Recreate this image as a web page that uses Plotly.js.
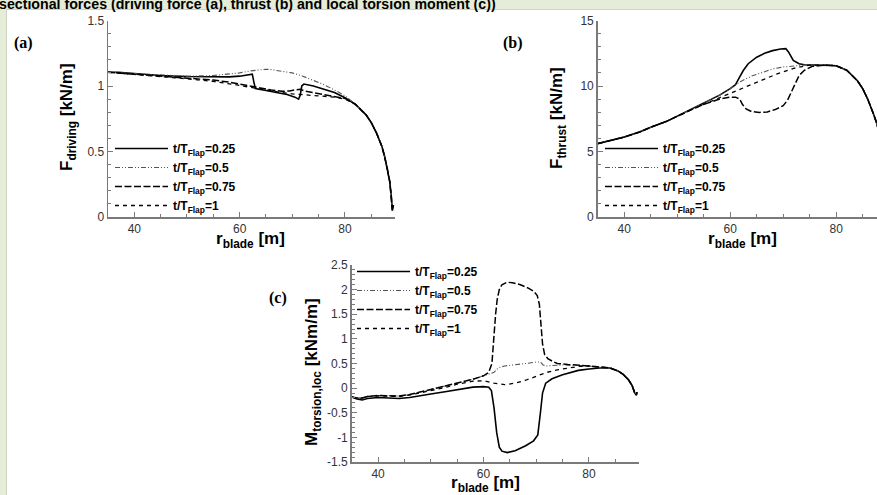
<!DOCTYPE html>
<html><head><meta charset="utf-8">
<script src="https://cdn.plot.ly/plotly-3.0.1.min.js"></script>
<style>html,body{margin:0;padding:0;overflow:hidden;background:#e5ecd7}</style>
</head><body><div id="chart" style="width:877px;height:495px"></div>
<script>
// ---------- series names ----------
const seriesNames = ['t/T<sub>Flap</sub>=0.25', 't/T<sub>Flap</sub>=0.5', 't/T<sub>Flap</sub>=0.75', 't/T<sub>Flap</sub>=1'];

// ---------- (a) driving force [kN/m] ----------
const xa025 = [35,37,40,45,50,55,58,60,61,62,62.4,62.7,63,65,67,69,70.5,71.2,71.5,71.8,72.2,74,76,78,80,82,84,85,86,87,87.5,88,88.5,88.8,89,89.2];
const ya025 = [1.105,1.105,1.095,1.08,1.072,1.068,1.07,1.075,1.08,1.087,1.09,1.03,0.98,0.965,0.95,0.935,0.915,0.9,0.93,1.0,1.015,1.0,0.975,0.95,0.91,0.86,0.78,0.72,0.64,0.54,0.47,0.38,0.27,0.16,0.05,0.09];
const xa05 = [35,40,45,50,55,58,60,62,64,65,66,68,70,72,74,76,78,80,82,84,85,86,87,87.5,88,88.5,88.8,89,89.2];
const ya05 = [1.105,1.095,1.08,1.075,1.08,1.09,1.1,1.115,1.125,1.128,1.125,1.115,1.1,1.075,1.045,1.01,0.97,0.925,0.86,0.78,0.72,0.64,0.54,0.47,0.38,0.27,0.16,0.05,0.09];
const xa075 = [35,40,45,50,55,58,60,62,64,66,68,69.5,70.5,71.5,72.5,74,76,78,80,82,84,85,86,87,87.5,88,88.5,88.8,89,89.2];
const ya075 = [1.105,1.09,1.075,1.06,1.045,1.03,1.015,0.995,0.98,0.97,0.96,0.962,0.97,0.975,0.96,0.95,0.935,0.92,0.905,0.86,0.78,0.72,0.64,0.54,0.47,0.38,0.27,0.16,0.05,0.09];
const xa1 = [35,40,45,50,55,58,60,62,64,66,68,70,72,74,76,78,80,82,84,85,86,87,87.5,88,88.5,88.8,89,89.2];
const ya1 = [1.105,1.09,1.07,1.055,1.035,1.02,1.005,0.99,0.975,0.96,0.95,0.94,0.935,0.93,0.925,0.915,0.9,0.86,0.78,0.72,0.64,0.54,0.47,0.38,0.27,0.16,0.05,0.09];

// ---------- (b) thrust [kN/m] ----------
const xb025 = [35,38,40,43,45,48,50,53,55,58,60,61,61.8,62.5,63.4,65,66.5,68,69.5,70.5,71,71.4,71.9,73,74,76,78,80,82,84,85,86,87,87.7,88.5,89];
const yb025 = [5.6,5.9,6.1,6.5,6.85,7.3,7.7,8.3,8.7,9.3,9.8,10.1,10.7,11.2,11.7,12.2,12.5,12.7,12.82,12.85,12.6,12.3,11.95,11.7,11.62,11.6,11.6,11.55,11.2,10.4,9.8,8.95,7.9,7.1,5.6,4.0];
const xb05 = [35,38,40,43,45,48,50,53,55,58,60,62,64,66,68,70,72,74,76,78,80,82,84,85,86,87,87.7,88.5,89];
const yb05 = [5.6,5.9,6.1,6.5,6.85,7.3,7.7,8.3,8.7,9.3,9.8,10.35,10.75,11.05,11.3,11.45,11.55,11.6,11.6,11.6,11.55,11.2,10.4,9.8,8.95,7.9,7.1,5.6,4.0];
const xb075 = [35,38,40,43,45,48,50,53,55,58,60,61,61.8,62.3,63,64,65.5,67,68.5,70,70.8,71.5,72.2,73,74,75.5,78,80,82,84,85,86,87,87.7,88.5,89];
const yb075 = [5.6,5.9,6.1,6.5,6.85,7.3,7.7,8.25,8.6,9.0,9.15,9.15,9.0,8.6,8.25,8.05,7.98,8.02,8.2,8.5,8.9,9.5,10.2,10.8,11.2,11.5,11.6,11.55,11.2,10.4,9.8,8.95,7.9,7.1,5.6,4.0];
const xb1 = [35,38,40,43,45,48,50,53,55,58,60,63,66,69,72,75,78,80,82,84,85,86,87,87.7,88.5,89];
const yb1 = [5.6,5.9,6.1,6.5,6.85,7.3,7.7,8.25,8.6,9.1,9.4,9.9,10.45,10.95,11.35,11.6,11.6,11.55,11.2,10.4,9.8,8.95,7.9,7.1,5.6,4.0];

// ---------- (c) local torsion moment [kNm/m] ----------
const xc025 = [35,36,37,38,40,42,44,46,48,50,53,55,58,60,61,61.5,62,62.5,63,63.5,64.5,66,68,69.5,70.3,70.8,71.2,71.8,73,75,78,80,82,84,85.5,86.5,87.5,88.2,88.7,89,89.1];
const yc025 = [-0.18,-0.22,-0.24,-0.21,-0.19,-0.2,-0.21,-0.19,-0.16,-0.12,-0.07,-0.03,0.02,0.03,0.02,-0.05,-0.4,-0.9,-1.2,-1.28,-1.31,-1.27,-1.17,-1.07,-0.95,-0.5,-0.1,0.1,0.19,0.27,0.36,0.39,0.41,0.41,0.35,0.28,0.17,0.05,-0.1,-0.14,-0.08];
const xc05 = [35,36,37,38,40,42,44,46,48,50,53,55,58,60,61,62,62.5,63,64,66,68,70,70.8,71.3,72,73,75,78,80,82,84,85.5,86.5,87.5,88.2,88.7,89,89.1];
const yc05 = [-0.18,-0.2,-0.2,-0.17,-0.15,-0.16,-0.16,-0.13,-0.08,-0.03,0.05,0.1,0.18,0.25,0.28,0.32,0.38,0.42,0.45,0.47,0.5,0.53,0.53,0.47,0.45,0.46,0.47,0.46,0.44,0.43,0.41,0.35,0.28,0.17,0.05,-0.1,-0.14,-0.08];
const xc075 = [35,36,37,38,40,42,44,46,48,50,53,55,58,60,61,61.6,61.9,62.3,62.6,63,63.5,64.5,65.5,67,68.5,69.5,70.2,70.6,70.9,71.2,71.6,72.2,73,74,76,78,80,82,84,85.5,86.5,87.5,88.2,88.7,89,89.1];
const yc075 = [-0.18,-0.2,-0.2,-0.17,-0.15,-0.16,-0.16,-0.13,-0.08,-0.03,0.05,0.1,0.18,0.25,0.32,0.5,1.0,1.5,1.8,2.0,2.1,2.15,2.14,2.1,2.03,1.97,1.88,1.7,1.3,0.9,0.68,0.6,0.55,0.5,0.48,0.47,0.45,0.43,0.41,0.35,0.28,0.17,0.05,-0.1,-0.14,-0.08];
const xc1 = [35,36,37,38,40,42,44,46,48,50,53,55,58,60,62,64,66,68,70,72,74,76,78,80,82,84,85.5,86.5,87.5,88.2,88.7,89,89.1];
const yc1 = [-0.18,-0.21,-0.2,-0.17,-0.16,-0.17,-0.17,-0.14,-0.1,-0.05,0.02,0.08,0.14,0.15,0.1,0.07,0.1,0.16,0.24,0.32,0.37,0.41,0.44,0.45,0.43,0.41,0.35,0.28,0.17,0.05,-0.1,-0.14,-0.08];

// ---------- tick labels ----------
const yTicksC = [-1.5,-1,-0.5,0,0.5,1,1.5,2,2.5];
const yTickTextC = ['-1.5','-1','-0.5','0','0.5','1','1.5','2','2.5'];

// ---------- styles ----------
const W = 877, H = 495;
const px = v => v / W, py = v => 1 - v / H;
const lineStyles = [
  {color:'#000000', width:1.6},
  {color:'#555555', width:1.1, dash:'5px,2px,1px,2px,1px,2px'},
  {color:'#000000', width:1.5, dash:'7px,2.5px'},
  {color:'#000000', width:1.3, dash:'4px,4px'}
];
const panels = [
  {xs:[xa025,xa05,xa075,xa1], ys:[ya025,ya05,ya075,ya1], xa:'x', ya:'y', lg:'legend'},
  {xs:[xb025,xb05,xb075,xb1], ys:[yb025,yb05,yb075,yb1], xa:'x2', ya:'y2', lg:'legend2'},
  {xs:[xc025,xc05,xc075,xc1], ys:[yc025,yc05,yc075,yc1], xa:'x3', ya:'y3', lg:'legend3'}
];
const traces = [];
panels.forEach(p => {
  for (let i = 0; i < 4; i++) {
    traces.push({type:'scatter', mode:'lines', x:p.xs[i], y:p.ys[i], xaxis:p.xa, yaxis:p.ya,
      legend:p.lg, name:'<b>' + seriesNames[i] + '</b>', line:lineStyles[i], hoverinfo:'skip'});
  }
});

const axColor = '#7a7a7a';
const tickFont = {family:'Liberation Sans, Arial, sans-serif', size:12, color:'#333'};
function xAxis(d0, d1, r0, r1, anchor) {
  return {domain:[px(d0), px(d1)], range:[r0, r1], anchor:anchor, showline:true, linecolor:axColor, linewidth:1.5,
    ticks:'inside', ticklen:5, tickwidth:1, tickcolor:axColor, tick0:0, dtick:20, tickfont:tickFont,
    minor:{ticks:'inside', ticklen:3, tick0:0, dtick:5, tickcolor:axColor, tickwidth:1},
    showgrid:false, zeroline:false, fixedrange:true};
}
function yAxis(top, bottom, r0, r1, dt, mdt, anchor) {
  return {domain:[py(bottom), py(top)], range:[r0, r1], anchor:anchor, showline:true, linecolor:axColor, linewidth:1.5,
    ticks:'inside', ticklen:5, tickwidth:1, tickcolor:axColor, tick0:0, dtick:dt, tickfont:tickFont,
    minor:{ticks:'inside', ticklen:3, tick0:0, dtick:mdt, tickcolor:axColor, tickwidth:1},
    showgrid:false, zeroline:false, fixedrange:true};
}
const yC = yAxis(265, 462, -1.5, 2.5, 0.5, 0.1, 'x3');
yC.tickmode = 'array'; yC.tickvals = yTicksC; yC.ticktext = yTickTextC;

const legendFont = {family:'Liberation Sans, Arial, sans-serif', size:12, color:'#000'};
function legendAt(x, y) {
  return {x:px(x), y:py(y), xanchor:'left', yanchor:'top', bgcolor:'rgba(0,0,0,0)', borderwidth:0,
    font:legendFont, itemwidth:53, tracegroupgap:0, itemclick:false, itemdoubleclick:false};
}

const titleFont = {family:'Liberation Sans, Arial, sans-serif', size:17, color:'#000'};
const panelFont = {family:'Liberation Serif, Times New Roman, serif', size:16, color:'#000'};
function ann(x, y, text, font, extra) {
  return Object.assign({xref:'paper', yref:'paper', x:px(x), y:py(y), text:text, showarrow:false,
    font:font, xanchor:'center', yanchor:'middle'}, extra || {});
}
const annotations = [
  ann(-3.5, 3.7, '<b>sectional forces (driving force (a), thrust (b) and local torsion moment (c))</b>',
      {family:'Liberation Sans, Arial, sans-serif', size:14.2, color:'#000'}, {xanchor:'left'}),
  ann(23, 43, '<b>(a)</b>', panelFont),
  ann(513, 43, '<b>(b)</b>', panelFont),
  ann(278, 298, '<b>(c)</b>', panelFont),
  ann(68, 117, '<b>F<sub>driving</sub> [kN/m]</b>', titleFont, {textangle:-90}),
  ann(250, 240, '<b>r<sub>blade</sub> [m]</b>', titleFont),
  ann(558, 118, '<b>F<sub>thrust</sub> [kN/m]</b>', titleFont, {textangle:-90}),
  ann(742, 240, '<b>r<sub>blade</sub> [m]</b>', titleFont),
  ann(313, 372, '<b>M<sub>torsion,loc</sub> [kNm/m]</b>', titleFont, {textangle:-90}),
  ann(485, 484, '<b>r<sub>blade</sub> [m]</b>', titleFont)
];

const layout = {
  width:W, height:H, margin:{l:0, r:0, t:0, b:0},
  paper_bgcolor:'#e5ecd7', plot_bgcolor:'rgba(0,0,0,0)',
  showlegend:true, hovermode:false,
  xaxis: xAxis(108, 395, 35, 89.5, 'y'),
  yaxis: yAxis(20.5, 217, 0, 1.5, 0.5, 0.1, 'x'),
  xaxis2: xAxis(597.7, 877, 35, 87.7, 'y2'),
  yaxis2: yAxis(20.5, 217, 0, 15, 5, 1, 'x2'),
  xaxis3: xAxis(351.7, 639, 35, 89.5, 'y3'),
  yaxis3: yC,
  legend: legendAt(110, 134),
  legend2: legendAt(600, 134),
  legend3: legendAt(352, 257),
  shapes: [{type:'rect', xref:'paper', yref:'paper', x0:px(6.5), x1:1.01, y0:-0.01, y1:py(9.5),
    fillcolor:'#ffffff', line:{color:'#cdd4c2', width:1}, layer:'below'}],
  annotations: annotations
};
Plotly.newPlot('chart', traces, layout, {displayModeBar:false, staticPlot:true});
</script></body></html>
